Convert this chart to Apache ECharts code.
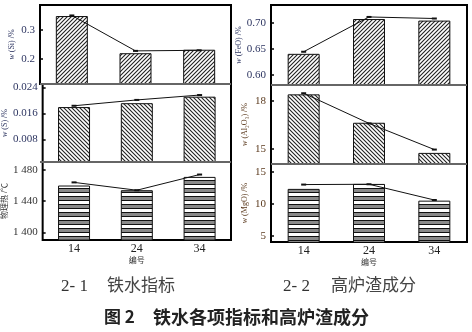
<!DOCTYPE html>
<html><head><meta charset="utf-8">
<script src="https://cdn.jsdelivr.net/npm/echarts@6/dist/echarts.min.js"></script>
<style>html,body{margin:0;padding:0;background:#fff}#c{width:472px;height:332px}</style>
</head><body><div id="c"></div>
<script>
const categories = ['14', '24', '34'];
const siBar = [0.348, 0.220, 0.232];
const siLine = [0.350, 0.228, 0.230];
const sBar = [0.0179, 0.0191, 0.0211];
const sLine = [0.0183, 0.0201, 0.0216];
const heatBar = [1460, 1454, 1471];
const heatLine = [1464, 1454, 1474];
const feoBar = [0.641, 0.708, 0.705];
const feoLine = [0.645, 0.712, 0.709];
const alBar = [18.43, 16.64, 14.74];
const alLine = [18.5, 16.6, 14.95];
const mgoBar = [12.33, 13.1, 10.5];
const mgoLine = [13.0, 13.05, 10.6];
const siTicks = [0.2, 0.3];
const sTicks = [0.008, 0.016, 0.024];
const heatTicks = [1400, 1440, 1480];
const feoTicks = [0.60, 0.65, 0.70];
const alTicks = [15, 18];
const mgoTicks = [5, 10, 15];

function pattern(kind) {
  const c = document.createElement('canvas');
  const ctx = c.getContext('2d');
  if (kind === 'h') {
    c.width = 8; c.height = 8;
    ctx.fillStyle = '#fff'; ctx.fillRect(0, 0, 8, 8);
    ctx.fillStyle = '#8a8a8a'; ctx.fillRect(0, 5, 8, 3);
    ctx.fillStyle = '#111'; ctx.fillRect(0, 0, 8, 1); ctx.fillRect(0, 4, 8, 1);
  } else {
    c.width = 4; c.height = 4;
    ctx.fillStyle = '#fff'; ctx.fillRect(0, 0, 4, 4);
    ctx.strokeStyle = '#222'; ctx.lineWidth = 1.1;
    ctx.beginPath();
    if (kind === '/') {
      ctx.moveTo(-1, 5); ctx.lineTo(5, -1);
      ctx.moveTo(-1, 1); ctx.lineTo(1, -1);
      ctx.moveTo(3, 5); ctx.lineTo(5, 3);
    } else {
      ctx.moveTo(-1, -1); ctx.lineTo(5, 5);
      ctx.moveTo(3, -1); ctx.lineTo(5, 1);
      ctx.moveTo(-1, 3); ctx.lineTo(1, 5);
    }
    ctx.stroke();
  }
  return { image: c, repeat: 'repeat' };
}

const navy = '#2d3561', brown = '#5b3a1e';
const panels = [
  { grid: { left: 40, top: 5, width: 191, height: 79 }, min: 0.114, max: 0.386, ticks: siTicks, fmt: v => v.toFixed(1), name: '{i|w} (Si) /%', bar: siBar, line: siLine, pat: '/', col: navy, gap: 24, bottom: false },
  { grid: { left: 40, top: 84, width: 191, height: 78 }, min: 0.001, max: 0.025, ticks: sTicks, fmt: v => v.toFixed(3), name: '{i|w} (S) /%', bar: sBar, line: sLine, pat: '\\', col: navy, gap: 29, bottom: false },
  { grid: { left: 40, top: 162, width: 191, height: 78 }, min: 1390.5, max: 1490, ticks: heatTicks, fmt: v => String(v).replace(/^(\d)(\d{3})$/, '$1 $2'), name: '物理热 /℃', bar: heatBar, line: heatLine, pat: 'h', col: '#333', gap: 29, bottom: true },
  { grid: { left: 271, top: 5, width: 196, height: 80 }, min: 0.581, max: 0.735, ticks: feoTicks, fmt: v => v.toFixed(2), name: '{i|w} (FeO) /%', bar: feoBar, line: feoLine, pat: '/', col: navy, gap: 24, bottom: false },
  { grid: { left: 271, top: 85, width: 196, height: 79 }, min: 14.04, max: 19.02, ticks: alTicks, fmt: v => String(v), name: '{i|w} (Al₂O₃) /%', bar: alBar, line: alLine, pat: '\\', col: brown, gap: 22, bottom: false },
  { grid: { left: 271, top: 164, width: 196, height: 78 }, min: 4.07, max: 16.2, ticks: mgoTicks, fmt: v => String(v), name: '{i|w} (MgO) /%', bar: mgoBar, line: mgoLine, pat: 'h', col: brown, gap: 22, bottom: true }
];

const grid = [], xAxis = [], yAxis = [], series = [];
panels.forEach((p, i) => {
  grid.push(Object.assign({ show: true, borderColor: '#000', borderWidth: 2, backgroundColor: 'transparent' }, p.grid));
  xAxis.push({
    type: 'category', gridIndex: i, data: categories,
    axisLine: { show: false }, axisTick: { show: false },
    axisLabel: { show: p.bottom, fontFamily: 'Liberation Serif', fontSize: 12, color: '#222', margin: 3 },
    name: p.bottom ? '编号' : '', nameLocation: 'middle', nameGap: 15,
    nameTextStyle: { fontFamily: 'Noto Sans CJK SC', fontSize: 8, color: '#333' }
  });
  yAxis.push({
    type: 'value', gridIndex: i, min: p.min, max: p.max,
    splitLine: { show: false },
    axisLine: { show: false },
    axisTick: { show: true, inside: true, length: 3, customValues: p.ticks, lineStyle: { color: '#000', width: 1.5 } },
    axisLabel: { customValues: p.ticks, formatter: p.fmt, fontFamily: 'Liberation Serif', fontSize: 11, color: p.col, margin: 5 },
    name: p.name, nameLocation: 'middle', nameRotate: 90, nameGap: p.gap,
    nameTextStyle: { fontFamily: 'Liberation Serif, Noto Sans CJK SC', fontSize: 8, color: p.col, rich: { i: { fontStyle: 'italic', fontFamily: 'Liberation Serif', fontSize: 8, color: p.col } } }
  });
  series.push({
    type: 'bar', xAxisIndex: i, yAxisIndex: i, data: p.bar, barWidth: 32,
    itemStyle: { color: pattern(p.pat), borderColor: '#111', borderWidth: 1 }, silent: true
  });
  series.push({
    type: 'line', xAxisIndex: i, yAxisIndex: i, data: p.line,
    lineStyle: { color: '#111', width: 1 }, itemStyle: { color: '#111' },
    symbol: 'rect', symbolSize: [5, 2], z: 5, silent: true
  });
});

const capFont = 'Liberation Serif, Noto Sans CJK SC';
const chart = echarts.init(document.getElementById('c'), null, { renderer: 'canvas' });
chart.setOption({
  animation: false,
  grid, xAxis, yAxis, series,
  graphic: [
    { type: 'line', shape: { x1: 40, y1: 84, x2: 231, y2: 84 }, style: { stroke: '#666', lineWidth: 2 }, z: 100 },
    { type: 'line', shape: { x1: 40, y1: 162, x2: 231, y2: 162 }, style: { stroke: '#666', lineWidth: 2 }, z: 100 },
    { type: 'line', shape: { x1: 271, y1: 85, x2: 467, y2: 85 }, style: { stroke: '#666', lineWidth: 2 }, z: 100 },
    { type: 'line', shape: { x1: 271, y1: 164, x2: 467, y2: 164 }, style: { stroke: '#666', lineWidth: 2 }, z: 100 },
    { type: 'text', x: 61, y: 287, style: { text: '2- 1', fontFamily: capFont, fontSize: 17, fill: '#333', verticalAlign: 'middle' } },
    { type: 'text', x: 107, y: 287, style: { text: '铁水指标', fontFamily: capFont, fontSize: 17, fill: '#444', verticalAlign: 'middle' } },
    { type: 'text', x: 283, y: 287, style: { text: '2- 2', fontFamily: capFont, fontSize: 17, fill: '#333', verticalAlign: 'middle' } },
    { type: 'text', x: 331, y: 287, style: { text: '高炉渣成分', fontFamily: capFont, fontSize: 17, fill: '#444', verticalAlign: 'middle' } },
    { type: 'text', x: 104, y: 317, style: { text: '图 2', fontFamily: 'Noto Sans CJK SC', fontSize: 17, fontWeight: 'bold', fill: '#222', verticalAlign: 'middle' } },
    { type: 'text', x: 153, y: 317, style: { text: '铁水各项指标和高炉渣成分', fontFamily: 'Noto Sans CJK SC', fontSize: 18, fontWeight: 'bold', fill: '#222', verticalAlign: 'middle' } }
  ]
});
</script></body></html>
